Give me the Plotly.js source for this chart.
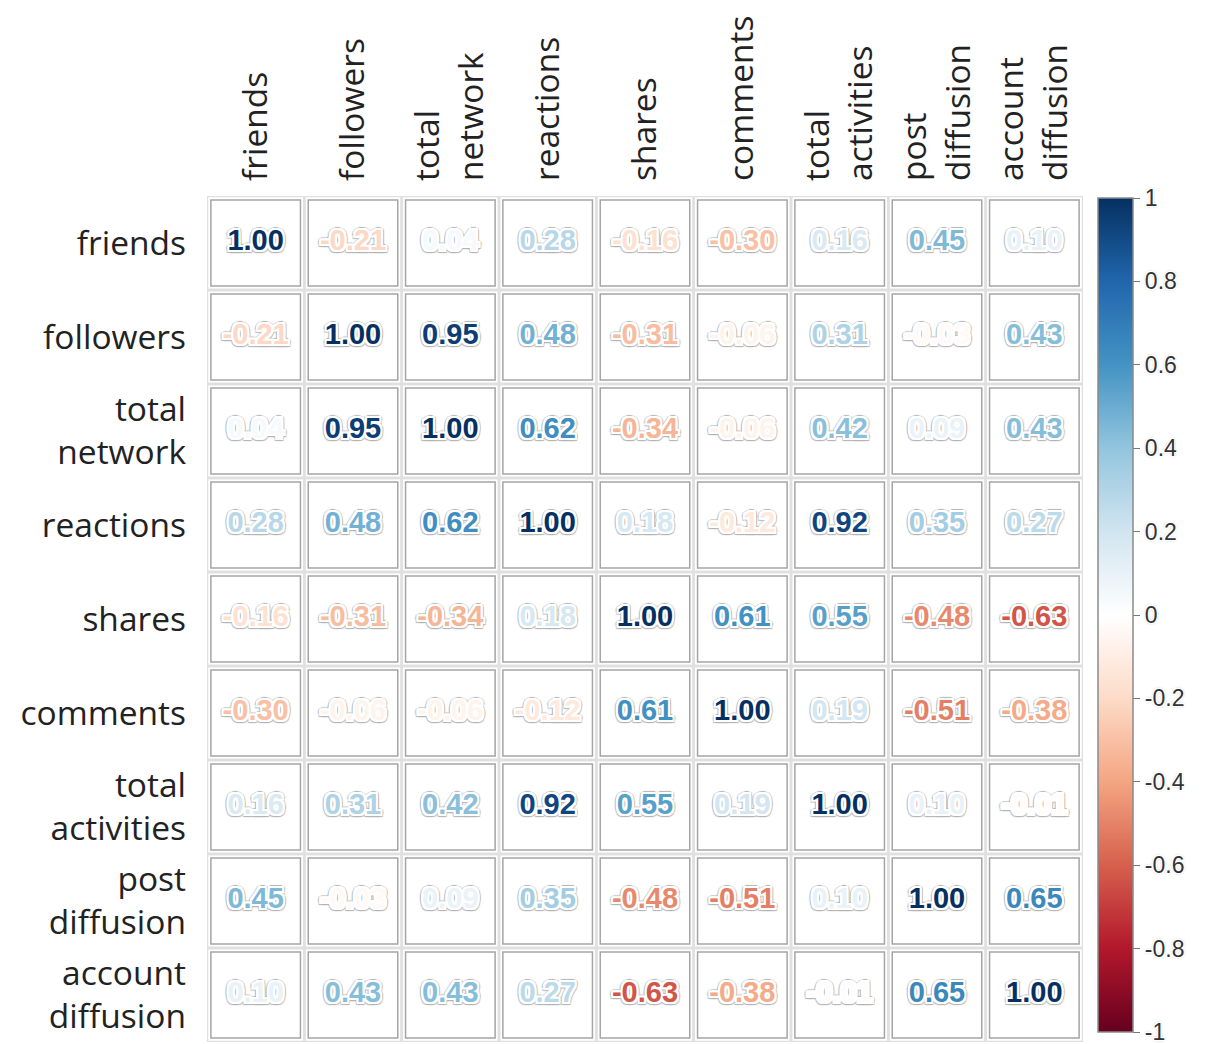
<!DOCTYPE html>
<html>
<head>
<meta charset="utf-8">
<script src="https://cdn.plot.ly/plotly-3.0.1.min.js"></script>
<style>
  html, body { margin: 0; padding: 0; background: #ffffff; }
  #chart { width: 1211px; height: 1044px; }
</style>
</head>
<body>
<div id="chart"></div>
<script>
// Variable names (row/column order)
const variables = [
  "friends", "followers", "total<br>network", "reactions", "shares",
  "comments", "total<br>activities", "post<br>diffusion", "account<br>diffusion"
];

// Correlation matrix, one row per variable
const rowFriends     = [ 1.00, -0.21,  0.04,  0.28, -0.16, -0.30,  0.16,  0.45,  0.10];
const rowFollowers   = [-0.21,  1.00,  0.95,  0.48, -0.31, -0.06,  0.31, -0.03,  0.43];
const rowTotalNet    = [ 0.04,  0.95,  1.00,  0.62, -0.34, -0.06,  0.42,  0.09,  0.43];
const rowReactions   = [ 0.28,  0.48,  0.62,  1.00,  0.18, -0.12,  0.92,  0.35,  0.27];
const rowShares      = [-0.16, -0.31, -0.34,  0.18,  1.00,  0.61,  0.55, -0.48, -0.63];
const rowComments    = [-0.30, -0.06, -0.06, -0.12,  0.61,  1.00,  0.19, -0.51, -0.38];
const rowTotalAct    = [ 0.16,  0.31,  0.42,  0.92,  0.55,  0.19,  1.00,  0.10, -0.01];
const rowPostDiff    = [ 0.45, -0.03,  0.09,  0.35, -0.48, -0.51,  0.10,  1.00,  0.65];
const rowAccountDiff = [ 0.10,  0.43,  0.43,  0.27, -0.63, -0.38, -0.01,  0.65,  1.00];

const matrix = [rowFriends, rowFollowers, rowTotalNet, rowReactions, rowShares,
                rowComments, rowTotalAct, rowPostDiff, rowAccountDiff];

// Colour bar ticks
const barTicks = [1, 0.8, 0.6, 0.4, 0.2, 0, -0.2, -0.4, -0.6, -0.8, -1];
const barTickText = ["1", "0.8", "0.6", "0.4", "0.2", "0", "-0.2", "-0.4", "-0.6", "-0.8", "-1"];

// Diverging red-white-blue palette over [-1, 1]
const palette = ["#67001F", "#B2182B", "#D6604D", "#F4A582", "#FDDBC7", "#FFFFFF",
                 "#D1E5F0", "#92C5DE", "#4393C3", "#2166AC", "#053061"];
const colorscale = palette.map((c, i) => [i / (palette.length - 1), c]);

function hexToRgb(h) {
  return [parseInt(h.slice(1, 3), 16), parseInt(h.slice(3, 5), 16), parseInt(h.slice(5, 7), 16)];
}
function valueColor(v) {
  const t = (v + 1) / 2 * (palette.length - 1);
  const i = Math.min(Math.floor(t), palette.length - 2);
  const f = t - i;
  const a = hexToRgb(palette[i]), b = hexToRgb(palette[i + 1]);
  const c = a.map((x, k) => Math.round(x + (b[k] - x) * f));
  return `rgb(${c[0]},${c[1]},${c[2]})`;
}

const n = variables.length;
const xs = [], ys = [], vals = [], labels = [], colors = [];
for (let r = 0; r < n; r++) {
  for (let c = 0; c < n; c++) {
    xs.push(c);
    ys.push(r);
    vals.push(matrix[r][c]);
    labels.push(matrix[r][c].toFixed(2));
    colors.push(valueColor(matrix[r][c]));
  }
}

// Cell frames: light grid around each cell plus an inner grey box
const shapes = [];
for (let r = 0; r < n; r++) {
  for (let c = 0; c < n; c++) {
    shapes.push({
      type: "rect", xref: "x", yref: "y", layer: "below",
      x0: c - 0.5, x1: c + 0.5, y0: r - 0.5, y1: r + 0.5,
      line: { color: "#e0e0e0", width: 2.5 }, fillcolor: "rgba(0,0,0,0)"
    });
    shapes.push({
      type: "rect", xref: "x", yref: "y", layer: "below",
      x0: c - 0.46, x1: c + 0.46, y0: r - 0.457, y1: r + 0.457,
      line: { color: "#a5a5a5", width: 1.5 }, fillcolor: "#ffffff"
    });
  }
}

// White halo with a thin grey rim around each number
const white = ["2px 0", "-2px 0", "0 2px", "0 -2px", "2px 2px", "-2px -2px", "2px -2px", "-2px 2px"]
  .map(o => o + " 0 #fff");
const rim = ["3px 0", "-3px 0", "0 3px", "0 -3px", "2.5px 2.5px", "-2.5px -2.5px", "2.5px -2.5px", "-2.5px 2.5px"]
  .map(o => o + " 1px #b4b4b4");
const halo = white.concat(rim).join(", ");

const trace = {
  type: "scatter",
  mode: "markers+text",
  x: xs,
  y: ys,
  text: labels,
  textposition: "middle center",
  textfont: { family: "Liberation Sans, Arial, sans-serif", size: 29, weight: "bold", color: colors, shadow: halo },
  hoverinfo: "skip",
  marker: {
    size: 1,
    opacity: 0,
    color: vals,
    colorscale: colorscale,
    cmin: -1, cmax: 1,
    showscale: true,
    colorbar: {
      x: 1.0171, xanchor: "left", xref: "paper", xpad: 0, ypad: 0,
      y: 0.9976, yanchor: "top", len: 0.986, lenmode: "fraction",
      thickness: 35,
      outlinecolor: "#8a8a8a", outlinewidth: 1.5,
      tickmode: "array", tickvals: barTicks, ticktext: barTickText,
      ticks: "outside", ticklen: 7, tickcolor: "#777",
      ticklabeloverflow: "allow",
      tickfont: { family: "Liberation Sans, Arial, sans-serif", size: 23, color: "#333",
                  shadow: "1px 1px 0 #fff, -1px -1px 0 #fff, 1px -1px 0 #fff, -1px 1px 0 #fff, 0 0 3px #999" }
    }
  },
  showlegend: false
};

const labelFont = { family: "Open Sans, Noto Sans, sans-serif", size: 33.5, color: "#222" };

const layout = {
  width: 1211,
  height: 1044,
  margin: { l: 207, r: 128, t: 196, b: 2 },
  paper_bgcolor: "#ffffff",
  plot_bgcolor: "#ffffff",
  showlegend: false,
  shapes: shapes,
  xaxis: {
    range: [-0.5, n - 0.5],
    side: "top",
    tickmode: "array",
    tickvals: variables.map((_, i) => i),
    ticktext: variables,
    tickangle: -90,
    tickfont: labelFont,
    ticklabelstandoff: 14,
    showgrid: false, zeroline: false, showline: false, ticks: "",
    fixedrange: true
  },
  yaxis: {
    range: [n - 0.5, -0.5],
    tickmode: "array",
    tickvals: variables.map((_, i) => i),
    ticktext: variables,
    tickfont: labelFont,
    ticklabelstandoff: 20,
    showgrid: false, zeroline: false, showline: false, ticks: "",
    fixedrange: true
  }
};

Plotly.newPlot("chart", [trace], layout, { displayModeBar: false, staticPlot: true });
</script>
</body>
</html>
